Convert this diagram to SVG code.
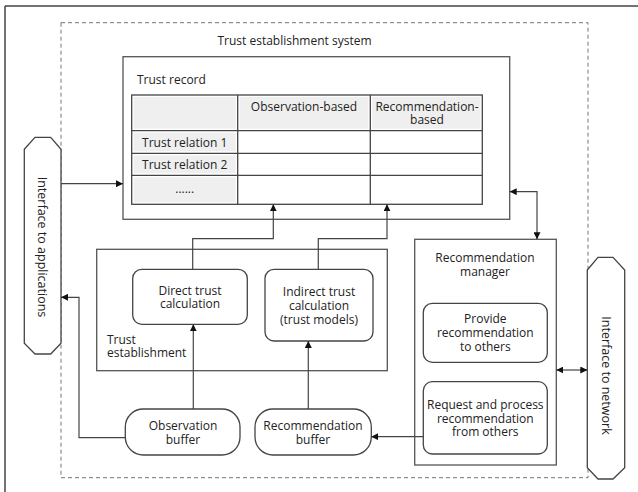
<svg xmlns="http://www.w3.org/2000/svg" width="638" height="492" viewBox="0 0 638 492">
<defs>
<marker id="ah" viewBox="0 0 10 10" refX="10" refY="5" markerWidth="7" markerHeight="7" markerUnits="userSpaceOnUse" orient="auto-start-reverse">
<path d="M0,0 L10,5 L0,10 z" fill="#111"/>
</marker>
<style>
text{font-family:"Open Sans","Noto Sans","DejaVu Sans",sans-serif;font-size:12px;fill:#222;}
.c{text-anchor:middle;}
.box{fill:#fff;stroke:#555;stroke-width:1.3;}
.rbox{fill:#fff;stroke:#444;stroke-width:1.3;}
.cell{fill:#efefef;stroke:none;}
.grid{stroke:#444;stroke-width:1.3;fill:none;}
.conn{fill:none;stroke:#444;stroke-width:1.2;}
</style>
</defs>
<rect width="638" height="492" fill="#fff"/>
<path d="M5,6 H638 M5,6 V492" fill="none" stroke="#444" stroke-width="1.5"/>

<g id="system">
<rect x="61" y="22.7" width="527" height="455" fill="none" stroke="#777" stroke-width="1" stroke-dasharray="4,3"/>
<text class="c" x="294.5" y="44.5">Trust establishment system</text>
</g>

<g id="trust-record">
<rect class="box" x="123" y="56.7" width="386.7" height="162.6"/>
<text x="137" y="83.5">Trust record</text>
<rect class="cell" x="133.7" y="97" width="102" height="31.7"/>
<rect class="cell" x="239.7" y="97" width="128.6" height="31.7"/>
<rect class="cell" x="372.3" y="97" width="108" height="31.7"/>
<rect class="cell" x="133.7" y="132.7" width="102" height="18.6"/>
<rect class="cell" x="133.7" y="155.3" width="102" height="18"/>
<rect class="cell" x="133.7" y="177.3" width="102" height="25"/>
<rect class="grid" x="131.7" y="95" width="350.6" height="109.3"/>
<path class="grid" d="M237.7,95 V204.3 M370.3,95 V204.3 M131.7,130.7 H482.3 M131.7,153.3 H482.3 M131.7,175.3 H482.3"/>
<text class="c" x="304" y="110.5">Observation-based</text>
<text class="c" x="427" y="110.5">Recommendation-</text>
<text class="c" x="427" y="123.5">based</text>
<text class="c" x="184.7" y="146.5">Trust relation 1</text>
<text class="c" x="184.7" y="168.5">Trust relation 2</text>
<text class="c" x="184.7" y="193">......</text>
</g>

<g id="trust-establishment">
<rect class="box" x="96.7" y="249.3" width="290.6" height="121.4"/>
<text x="107" y="343.5">Trust</text>
<text x="107" y="356.5">establishment</text>
</g>

<g id="direct-trust">
<rect class="rbox" x="132.7" y="269.3" width="114.6" height="55" rx="9"/>
<text class="c" x="190" y="294.5">Direct trust</text>
<text class="c" x="190" y="308">calculation</text>
</g>

<g id="indirect-trust">
<rect class="rbox" x="265" y="269.3" width="108" height="71.7" rx="9"/>
<text class="c" x="319" y="296">Indirect trust</text>
<text class="c" x="319" y="309.5">calculation</text>
<text class="c" x="319" y="323.5">(trust models)</text>
</g>

<g id="recommendation-manager">
<rect class="box" x="414.7" y="239.3" width="141.6" height="225.7"/>
<text class="c" x="485" y="261.5">Recommendation</text>
<text class="c" x="485" y="275.5">manager</text>
</g>

<g id="provide">
<rect class="rbox" x="423.3" y="303.3" width="124" height="59" rx="9"/>
<text class="c" x="485.3" y="323">Provide</text>
<text class="c" x="485.3" y="337">recommendation</text>
<text class="c" x="485.3" y="351">to others</text>
</g>

<g id="request">
<rect class="rbox" x="423.3" y="381.7" width="124" height="72.3" rx="9"/>
<text class="c" x="485.3" y="408.5">Request and process</text>
<text class="c" x="485.3" y="422.5">recommendation</text>
<text class="c" x="485.3" y="436">from others</text>
</g>

<g id="observation-buffer">
<rect class="rbox" x="125.3" y="409" width="114.7" height="46" rx="18"/>
<text class="c" x="183" y="429.5">Observation</text>
<text class="c" x="183" y="443.5">buffer</text>
</g>

<g id="recommendation-buffer">
<rect class="rbox" x="255" y="409" width="116.3" height="46" rx="18"/>
<text class="c" x="313" y="429.5">Recommendation</text>
<text class="c" x="313" y="443.5">buffer</text>
</g>

<g id="interface-applications">
<polygon class="rbox" points="24.3,149.3 35,137.3 50.7,137.3 61,149.3 61,343.3 50.7,354 35,354 24.3,343.3"/>
<text class="c" transform="translate(42.5,247) rotate(90)" y="4.5" style="font-size:12.5px">Interface to applications</text>
</g>

<g id="interface-network">
<polygon class="rbox" points="587.3,270 598,257.3 613,257.3 624.7,270 624.7,467.7 613,479 598,479 587.3,467.7"/>
<text class="c" transform="translate(606,375.5) rotate(90)" y="4.5" style="font-size:12.5px">Interface to network</text>
</g>

<g id="connectors">
<path class="conn" d="M61,183.7 H123" marker-end="url(#ah)"/>
<path class="conn" d="M125.3,437.7 H79 V297.3 H61" marker-end="url(#ah)"/>
<path class="conn" d="M192.7,269.3 V238.7 H273.3 V204.3" marker-end="url(#ah)"/>
<path class="conn" d="M318.3,269.3 V238.7 H387 V204.3" marker-end="url(#ah)"/>
<path class="conn" d="M509.7,191.7 H537 V239.3" marker-start="url(#ah)" marker-end="url(#ah)"/>
<path class="conn" d="M556.3,370 H587.3" marker-start="url(#ah)" marker-end="url(#ah)"/>
<path class="conn" d="M193.3,409 V324.3" marker-end="url(#ah)"/>
<path class="conn" d="M308.3,409 V341" marker-end="url(#ah)"/>
<path class="conn" d="M423.3,436.7 H371.3" marker-end="url(#ah)"/>
</g>
</svg>
